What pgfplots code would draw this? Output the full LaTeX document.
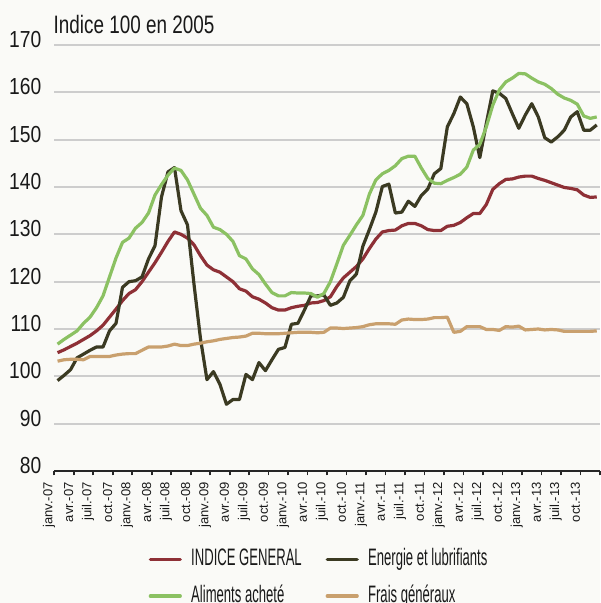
\documentclass[border=0pt]{standalone}
\usepackage{pgfplots}
\pgfplotsset{compat=1.18}
\usepackage{pgfplotstable}
\usepackage{fontspec}
\setmainfont{Liberation Sans}
% texte etroit: compression horizontale par \scalebox
\newcommand{\sleg}[1]{\scalebox{0.55}[1]{#1}}
\newcommand{\sy}[1]{\scalebox{0.83}[1]{#1}}

\definecolor{bgcol}{HTML}{FAFAF7}
\definecolor{gridcol}{HTML}{CDCDCD}
\definecolor{colgen}{HTML}{8E3036}
\definecolor{colener}{HTML}{3B3A22}
\definecolor{colalim}{HTML}{8BC162}
\definecolor{colfrais}{HTML}{C9A06E}

% indices mensuels, janv.-07 (0) a dec.-13 (83)
\pgfplotstableread{
i gen ener alim frais
0 105.0 99.1 106.8 103.2
1 105.6 100.2 107.8 103.5
2 106.3 101.4 108.7 103.6
3 107.0 103.9 109.6 103.6
4 107.8 104.7 111.2 103.5
5 108.6 105.5 112.5 104.2
6 109.6 106.2 114.5 104.2
7 110.8 106.2 117.0 104.2
8 112.5 109.6 121.0 104.2
9 114.2 111.2 125.0 104.5
10 116.0 118.8 128.3 104.7
11 117.5 120.0 129.2 104.8
12 118.3 120.2 131.3 104.8
13 120.0 121.0 132.5 105.5
14 122.0 124.8 134.5 106.2
15 124.0 127.6 138.3 106.2
16 126.2 137.9 140.5 106.2
17 128.5 143.2 142.5 106.4
18 130.5 144.1 144.0 106.8
19 130.0 135.0 143.5 106.5
20 129.2 132.0 141.5 106.5
21 127.8 119.5 138.5 106.8
22 125.5 108.0 135.5 107.0
23 123.5 99.3 134.0 107.3
24 122.5 101.0 131.5 107.5
25 122.0 98.3 131.0 107.8
26 121.0 94.1 130.0 108.0
27 120.0 95.1 128.5 108.2
28 118.5 95.1 125.5 108.3
29 118.0 100.4 124.8 108.5
30 116.8 99.3 122.7 109.1
31 116.3 102.9 121.5 109.1
32 115.5 101.2 119.5 109.0
33 114.5 103.5 117.7 109.0
34 114.0 105.7 117.0 109.0
35 114.0 106.1 117.0 109.1
36 114.5 111.0 117.7 109.2
37 114.8 111.2 117.6 109.3
38 115.0 114.0 117.6 109.3
39 115.5 117.0 117.5 109.3
40 115.6 117.0 116.7 109.2
41 116.0 117.2 117.5 109.3
42 116.8 115.0 120.0 110.2
43 119.0 115.5 123.8 110.2
44 120.8 116.7 127.7 110.1
45 122.0 120.2 129.8 110.2
46 123.2 121.6 132.0 110.3
47 124.8 127.5 134.0 110.5
48 127.0 131.0 138.5 110.9
49 129.0 134.7 141.5 111.1
50 130.5 140.1 142.8 111.1
51 130.8 140.6 143.5 111.1
52 130.9 134.5 144.5 111.0
53 131.8 134.7 146.0 111.9
54 132.3 137.0 146.5 112.1
55 132.3 135.9 146.5 112.0
56 131.8 138.2 144.0 112.0
57 131.0 139.6 141.8 112.1
58 130.8 142.8 140.8 112.4
59 130.8 143.9 140.7 112.4
60 131.7 152.7 141.4 112.5
61 131.9 155.5 142.0 109.3
62 132.5 159.0 142.7 109.5
63 133.5 157.6 144.2 110.5
64 134.4 152.7 147.8 110.5
65 134.4 146.2 149.0 110.5
66 136.3 153.4 152.7 109.9
67 139.5 160.3 157.3 109.9
68 140.7 159.8 160.5 109.7
69 141.6 158.7 162.2 110.5
70 141.7 155.5 163.0 110.4
71 142.1 152.4 164.0 110.6
72 142.3 155.2 163.9 109.8
73 142.3 157.6 163.0 109.9
74 141.8 154.8 162.2 110.0
75 141.4 150.4 161.7 109.8
76 140.9 149.5 160.8 109.9
77 140.4 150.6 159.6 109.8
78 139.9 152.0 158.8 109.5
79 139.7 154.8 158.3 109.5
80 139.4 155.9 157.5 109.5
81 138.3 152.0 155.0 109.5
82 137.8 152.0 154.5 109.5
83 137.9 153.1 154.8 109.6
}\indices

\begin{document}
\begin{tikzpicture}
% fond du graphique
\fill[bgcol] (-27.15pt,-66pt) rectangle (272.85pt,235.5pt);
\begin{axis}[
    name=ax,
    at={(0,0)}, anchor=south west,
    scale only axis,
    width=272.85pt, height=213pt,
    xmin=-0.5, xmax=83.5,
    ymin=80, ymax=170,
    ytick={80,90,...,170},
    yticklabels={\sy{80},\sy{90},\sy{100},\sy{110},\sy{120},
                 \sy{130},\sy{140},\sy{150},\sy{160},\sy{170}},
    xtick={-0.5,2.5,...,83.5},
    xticklabels={janv.-07,avr.-07,juil.-07,oct.-07,
                 janv.-08,avr.-08,juil.-08,oct.-08,
                 janv.-09,avr.-09,juil.-09,oct.-09,
                 janv.-10,avr.-10,juil.-10,oct.-10,
                 janv.-11,avr.-11,juil.-11,oct.-11,
                 janv.-12,avr.-12,juil.-12,oct.-12,
                 janv.-13,avr.-13,juil.-13,oct.-13,{}},
    axis x line*=bottom,
    axis y line*=left,
    y axis line style={draw=none},
    x axis line style={draw=black!85, line width=1pt},
    tick align=outside,
    major tick length=2.2pt,
    xtick style={draw=black!85, line width=0.8pt},
    ytick style={draw=none},
    ymajorgrids,
    grid style={draw=gridcol, line width=0.9pt},
    yticklabel style={font=\fontsize{11.6}{12}\selectfont, text=black!90,
        anchor=east, inner sep=0pt, xshift=-4.1pt, yshift=2.7pt},
    x tick label style={font=\fontsize{6.5}{7}\selectfont, text=black!90,
        inner sep=0pt, rotate=90, anchor=east, xshift=-3.3pt, yshift=2.6pt},
    legend columns=2,
    legend style={draw=none, fill=none, inner sep=0pt,
        at={(rel axis cs:0.1723,-0.1784)}, anchor=north west,
        column sep=0pt, row sep=6.35pt,
        nodes={inner sep=0pt, text height=9pt, text depth=3pt, anchor=base west,
               font=\fontsize{11.9}{12}\selectfont, text=black!90}},
    legend image code/.code={
        \path[draw=none, fill=none] (0pt,-3pt) rectangle (21.2pt,9pt);
        \draw[#1, line width=1.7pt, line cap=round] (0.8pt,3pt) -- (15.7pt,3pt);
    },
    every axis plot/.append style={line width=1.6pt, line join=round},
]
\addplot[colgen, no markers] table[x=i, y=gen] {\indices};
\addlegendentry{\makebox[67.2pt][l]{\sleg{INDICE GENERAL}}}
\addplot[colener, no markers] table[x=i, y=ener] {\indices};
\addlegendentry{\sleg{Energie et lubrifiants}}
\addplot[colalim, no markers] table[x=i, y=alim] {\indices};
\addlegendentry{\makebox[67.2pt][l]{\sleg{Aliments acheté}}}
\addplot[colfrais, no markers] table[x=i, y=frais] {\indices};
\addlegendentry{\sleg{Frais généraux}}
\end{axis}
\node[anchor=base west, inner sep=0pt, text=black!90,
      font=\fontsize{12.6}{13}\selectfont]
      at ([xshift=-0.5pt, yshift=5.5pt]ax.north west)
      {\scalebox{0.75}[1]{Indice 100 en 2005}};
\pgfresetboundingbox
\useasboundingbox (-27.15pt,-66pt) rectangle (272.85pt,235.5pt);
\end{tikzpicture}
\end{document}
